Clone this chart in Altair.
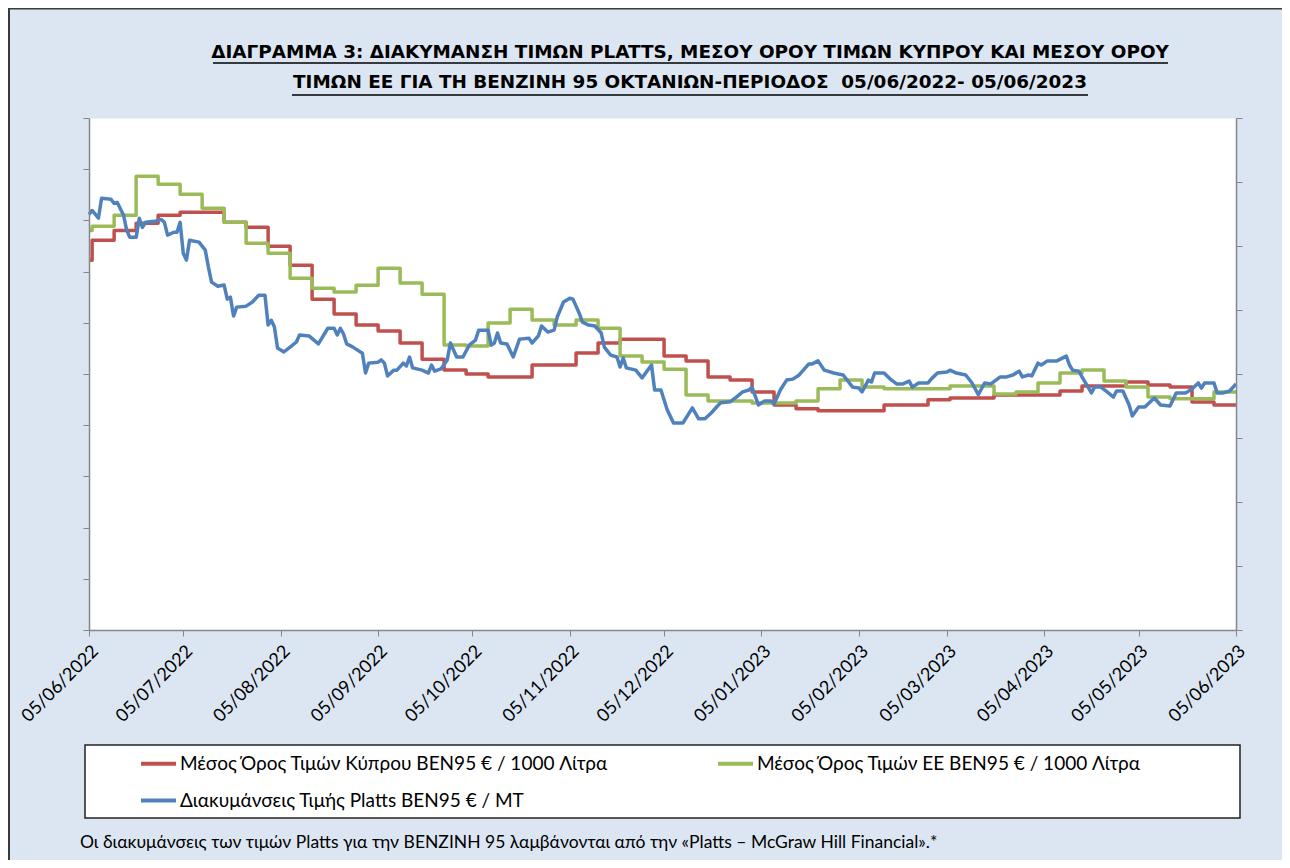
import altair as alt
import pandas as pd

# ---------------- texts ----------------
TITLE_1 = "ΔΙΑΓΡΑΜΜΑ 3: ΔΙΑΚΥΜΑΝΣΗ ΤΙΜΩΝ PLATTS, ΜΕΣΟΥ ΟΡΟΥ ΤΙΜΩΝ ΚΥΠΡΟΥ ΚΑΙ ΜΕΣΟΥ ΟΡΟΥ"
TITLE_2 = "ΤΙΜΩΝ ΕΕ ΓΙΑ ΤΗ ΒΕΝΖΙΝΗ 95 ΟΚΤΑΝΙΩΝ-ΠΕΡΙΟΔΟΣ \u00a005/06/2022- 05/06/2023"
FOOTNOTE = "Οι διακυμάνσεις των τιμών Platts για την BENZINH 95 λαμβάνονται από την «Platts – McGraw Hill Financial».*"
SERIES = [
    "Μέσος Όρος Τιμών Κύπρου BEN95 € / 1000 Λίτρα",
    "Μέσος Όρος Τιμών ΕΕ BEN95 € / 1000 Λίτρα",
    "Διακυμάνσεις Τιμής Platts BEN95 € / MT",
]
COLORS = ["#c0504d", "#9bbb59", "#4f81bd"]

# ---------------- data ----------------
# weekly averages (start value, 52 weekly values starting Monday 06/06/2022)
WEEK_START = "2022-06-06"
cyprus_start, cyprus_weekly = 1444, [
    1522, 1561, 1589, 1620, 1632, 1632, 1593, 1573, 1499, 1425,
    1292, 1234, 1191, 1168, 1121, 1058, 1016, 1000, 988, 988,
    1035, 1035, 1082, 1121, 1136, 1136, 1070, 1051, 988, 977,
    930, 879, 864, 856, 856, 856, 879, 879, 899, 906,
    906, 918, 918, 918, 934, 953, 953, 969, 957, 949,
    891, 879,
]
eu_start, eu_weekly = 1561, [
    1577, 1620, 1772, 1741, 1702, 1647, 1593, 1511, 1472, 1374,
    1335, 1320, 1347, 1413, 1355, 1312, 1113, 1109, 1199, 1253,
    1211, 1191, 1211, 1179, 1070, 1047, 1019, 918, 895, 895,
    887, 887, 895, 942, 977, 949, 942, 942, 942, 953,
    953, 922, 930, 965, 1004, 1016, 973, 949, 910, 903,
    903, 930,
]
# Platts quotes: days since 05/06/2022 and value (€/MT)
platts_days = [
    0, 1, 3, 4, 7, 8, 9, 11, 12, 13,
    15, 16, 17, 18, 21, 23, 24, 25, 27, 28,
    29, 30, 31, 32, 35, 37, 38, 39, 41, 43,
    44, 45, 46, 47, 50, 52, 54, 56, 57, 58,
    59, 60, 62, 64, 66, 67, 70, 73, 76, 78,
    79, 80, 81, 82, 84, 87, 88, 89, 92, 93,
    94, 95, 97, 98, 100, 101, 102, 103, 106, 108,
    109, 110, 112, 114, 115, 117, 119, 121, 123, 124,
    127, 128, 129, 130, 131, 133, 135, 137, 140, 141,
    143, 144, 146, 148, 149, 151, 153, 154, 156, 157,
    159, 161, 163, 164, 166, 168, 169, 170, 171, 174,
    176, 179, 180, 182, 184, 186, 189, 192, 194, 196,
    198, 200, 201, 204, 206, 208, 210, 211, 213, 215,
    217, 218, 220, 222, 224, 226, 229, 230, 232, 234,
    237, 240, 243, 245, 246, 248, 249, 250, 253, 255,
    257, 259, 261, 262, 264, 267, 268, 270, 273, 274,
    276, 279, 281, 283, 285, 287, 290, 292, 294, 296,
    297, 299, 300, 302, 303, 305, 308, 311, 312, 313,
    315, 316, 319, 320, 322, 324, 326, 327, 329, 331,
    332, 334, 336, 339, 341, 344, 346, 349, 351, 353,
    354, 355, 358, 359, 361, 363, 365,
]
platts_vals = [
    1299, 1311, 1287, 1349, 1346, 1333, 1336, 1296, 1249, 1227,
    1227, 1287, 1258, 1274, 1277, 1283, 1274, 1234, 1243, 1243,
    1274, 1177, 1156, 1218, 1212, 1187, 1134, 1087, 1074, 1078,
    1034, 1040, 981, 1009, 1012, 1025, 1046, 1046, 953, 968,
    947, 881, 869, 884, 900, 922, 919, 894, 943, 943,
    922, 943, 925, 894, 884, 865, 803, 834, 837, 844,
    834, 794, 812, 812, 834, 825, 853, 819, 812, 803,
    828, 809, 816, 844, 897, 853, 853, 890, 906, 937,
    937, 890, 897, 928, 897, 894, 853, 909, 912, 897,
    919, 950, 931, 937, 978, 1025, 1037, 1034, 990, 962,
    953, 950, 928, 884, 859, 853, 822, 850, 819, 812,
    788, 828, 750, 750, 688, 647, 647, 694, 660, 660,
    678, 700, 710, 713, 728, 744, 750, 759, 703, 716,
    716, 706, 750, 781, 784, 797, 831, 831, 841, 812,
    803, 797, 759, 756, 744, 781, 775, 803, 803, 784,
    769, 769, 778, 759, 772, 772, 784, 803, 806, 812,
    803, 797, 772, 735, 772, 769, 791, 791, 797, 809,
    791, 797, 794, 834, 828, 841, 841, 856, 828, 812,
    809, 791, 741, 759, 759, 744, 728, 747, 747, 703,
    669, 697, 697, 725, 703, 700, 741, 741, 753, 772,
    756, 772, 772, 741, 741, 747, 769,
]
START, END = "2022-06-05", "2023-06-05"
TICK_DATES = ["2022-06-05", "2022-07-05", "2022-08-05", "2022-09-05", "2022-10-05",
              "2022-11-05", "2022-12-05", "2023-01-05", "2023-02-05", "2023-03-05",
              "2023-04-05", "2023-05-05", "2023-06-05"]
LEFT_TICKS = [0, 200, 400, 600, 800, 1000, 1200, 1400, 1600, 1800, 2000]
RIGHT_TICKS = [0, 200, 400, 600, 800, 1000, 1200, 1400, 1600]

# ---------------- frames ----------------
week_dates = list(pd.date_range(WEEK_START, periods=len(cyprus_weekly), freq="7D"))
step_dates = [pd.Timestamp(START)] + week_dates + [pd.Timestamp(END)]
df_steps = pd.concat([
    pd.DataFrame({"date": step_dates,
                  "value": [cyprus_start] + cyprus_weekly + [cyprus_weekly[-1]],
                  "series": SERIES[0]}),
    pd.DataFrame({"date": step_dates,
                  "value": [eu_start] + eu_weekly + [eu_weekly[-1]],
                  "series": SERIES[1]}),
], ignore_index=True)
df_platts = pd.DataFrame({
    "date": pd.Timestamp(START) + pd.to_timedelta(platts_days, unit="D"),
    "value": platts_vals,
    "series": SERIES[2],
})

def dt(s):
    t = pd.Timestamp(s)
    return alt.DateTime(year=t.year, month=t.month, date=t.day)

AX = "#868686"
FONT = "Lato"
TFONT = "DejaVu Sans"
W, H = 1147, 512

x_enc = alt.X("date:T",
              scale=alt.Scale(domain=[dt(START), dt(END)]),
              axis=alt.Axis(values=[dt(d) for d in TICK_DATES], format="%d/%m/%Y",
                            labelAngle=-45, labelAlign="right", labelBaseline="top",
                            labelFont=FONT, labelFontSize=18, labelColor="black",
                            labelPadding=6, tickSize=6, tickColor=AX, domainColor=AX,
                            domainWidth=1.5, grid=False, title=None, labelOverlap=False,
                            zindex=2))

legend = alt.Legend(title=None, orient="none", legendX=50, legendY=626, columns=2,
                    direction="horizontal",
                    columnPadding=101, rowPadding=7, symbolType="stroke",
                    symbolStrokeWidth=4, symbolSize=1225, labelFont=FONT,
                    labelFontSize=19, labelColor="black", labelOffset=2,
                    padding=0, labelLimit=1000)
color_enc = alt.Color("series:N", scale=alt.Scale(domain=SERIES, range=COLORS),
                      legend=legend)

steps = alt.Chart(df_steps).mark_line(interpolate="step-after", strokeWidth=3.5,
                                      strokeJoin="round").encode(
    x=x_enc,
    y=alt.Y("value:Q", scale=alt.Scale(domain=[0, 2000]),
            axis=alt.Axis(values=LEFT_TICKS, labels=False, tickSize=6, tickColor=AX,
                          domainColor=AX, domainWidth=1.5, grid=False, title=None,
                          zindex=2)),
    color=color_enc,
    detail="series:N",
)
platts = alt.Chart(df_platts).mark_line(strokeWidth=3.5, strokeJoin="round").encode(
    x=x_enc,
    y=alt.Y("value:Q", scale=alt.Scale(domain=[0, 1600]),
            axis=alt.Axis(values=RIGHT_TICKS, labels=False, orient="right", tickSize=6,
                          tickColor=AX, domainColor=AX, domainWidth=1.5, grid=False,
                          title=None, zindex=2)),
    color=color_enc,
)

one = pd.DataFrame({"k": [0]})
border_left = alt.Chart(one).mark_rule(color="#3a3a3a", strokeWidth=2).encode(
    x=alt.value(-80), y=alt.value(-110), y2=alt.value(900))
border_top = alt.Chart(one).mark_rule(color="#3a3a3a", strokeWidth=2).encode(
    x=alt.value(-81), x2=alt.value(1300), y=alt.value(-109.5))
legend_box = alt.Chart(one).mark_rect(fill="white", stroke="#222222", strokeWidth=1.5).encode(
    x=alt.value(-4), x2=alt.value(1151), y=alt.value(627), y2=alt.value(700))
title1 = alt.Chart(pd.DataFrame({"t": [TITLE_1]})).mark_text(
    font=TFONT, fontSize=18.4, fontWeight="bold", align="center", baseline="alphabetic",
    color="black").encode(text="t:N", x=alt.value(601), y=alt.value(-60))
title2 = alt.Chart(pd.DataFrame({"t": [TITLE_2]})).mark_text(
    font=TFONT, fontSize=18.4, fontWeight="bold", align="center", baseline="alphabetic",
    color="black").encode(text="t:N", x=alt.value(601), y=alt.value(-30))
ul1 = alt.Chart(one).mark_rule(color="black", strokeWidth=1.5).encode(
    x=alt.value(124), x2=alt.value(1079), y=alt.value(-55))
ul2 = alt.Chart(one).mark_rule(color="black", strokeWidth=1.5).encode(
    x=alt.value(203), x2=alt.value(999), y=alt.value(-23))
foot = alt.Chart(pd.DataFrame({"t": [FOOTNOTE]})).mark_text(
    font=FONT, fontSize=17.5, align="left", baseline="middle", color="black").encode(
    text="t:N", x=alt.value(-9), y=alt.value(725))

chart = alt.layer(
    border_left, border_top, legend_box, title1, title2, ul1, ul2, foot, steps, platts
).resolve_scale(y="independent").properties(
    width=W, height=H,
    background="#dce6f2",
    padding={"left": 81, "top": 110, "right": 46, "bottom": 230},
    autosize=alt.AutoSizeParams(type="none"),
).configure_view(stroke="transparent", fill="white")

chart.save("out.html", embed_options={"renderer": "svg", "actions": False})
